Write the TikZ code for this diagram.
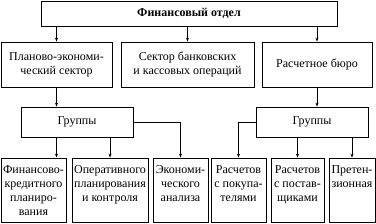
\documentclass[tikz,border=0pt]{standalone}
\usepackage{fontspec}
\setmainfont{Liberation Serif}
\usetikzlibrary{arrows.meta}
\begin{document}
\begin{tikzpicture}[x=1pt,y=-1pt,
  box/.style={draw, line width=0.8pt, inner sep=0pt, align=center, font=\fontsize{12}{14}\selectfont},
  conn/.style={line width=0.7pt, -{Stealth[length=4pt,width=3pt]}},
]
\useasboundingbox (0,0) rectangle (376,223);
\newcommand{\topbox}[2]{\parbox[t][48pt][t]{#1}{\centering #2}}
% top
\node[box, minimum width=296pt, minimum height=25pt] (top) at (189,13.5) {\textbf{Финансовый отдел}};
% row 2
\node[box, minimum width=111pt, minimum height=45pt] (A) at (56.5,64.5) {Планово-экономи-\\ческий сектор};
\node[box, minimum width=133pt, minimum height=45pt] (B) at (187.5,64.5) {Сектор банковских\\и кассовых операций};
\node[box, minimum width=110pt, minimum height=45pt] (C) at (317,64.5) {Расчетное бюро};
% groups
\node[box, minimum width=112pt, minimum height=30pt] (GL) at (77,122) {Группы};
\node[box, minimum width=112pt, minimum height=30pt] (GR) at (312,122) {Группы};
% bottom row
\node[box, minimum width=65pt, minimum height=64pt] (b1) at (33.5,190) {\topbox{63pt}{Финансово-\\кредитного\\планиро-\\вания}};
\node[box, minimum width=76pt, minimum height=64pt] (b2) at (110,190) {\topbox{74pt}{Оперативного\\планирования\\и контроля}};
\node[box, minimum width=55pt, minimum height=64pt] (b3) at (180.5,190) {\topbox{53pt}{Экономи-\\ческого\\анализа}};
\node[box, minimum width=55pt, minimum height=64pt] (b4) at (238.5,190) {\topbox{53pt}{Расчетов\\с покупа-\\телями}};
\node[box, minimum width=53pt, minimum height=64pt] (b5) at (297.5,190) {\topbox{51pt}{Расчетов\\с постав-\\щиками}};
\node[box, minimum width=46pt, minimum height=64pt] (b6) at (352,190) {\topbox{44pt}{Претен-\\зионная}};
% connectors
\draw[conn] (top.south -| A.north) -- (A.north);
\draw[conn] (top.south -| B.north) -- (B.north);
\draw[conn] (top.south -| C.north) -- (C.north);
\draw[conn] (A.south) -- (A.south |- GL.north);
\draw[conn] (C.south) -- (C.south |- GR.north);
\draw[conn] (GL.south -| A.south) -- (b1.north -| A.south);
\draw[conn] (GL.south -| b2.north) -- (b2.north);
\draw[conn] (GL.east) -| (b3.north);
\draw[conn] (GR.west) -| (b4.north);
\draw[conn] (GR.south -| b5.north) -- (b5.north);
\draw[conn] (GR.south -| b6.north) -- (b6.north);
\end{tikzpicture}
\end{document}
